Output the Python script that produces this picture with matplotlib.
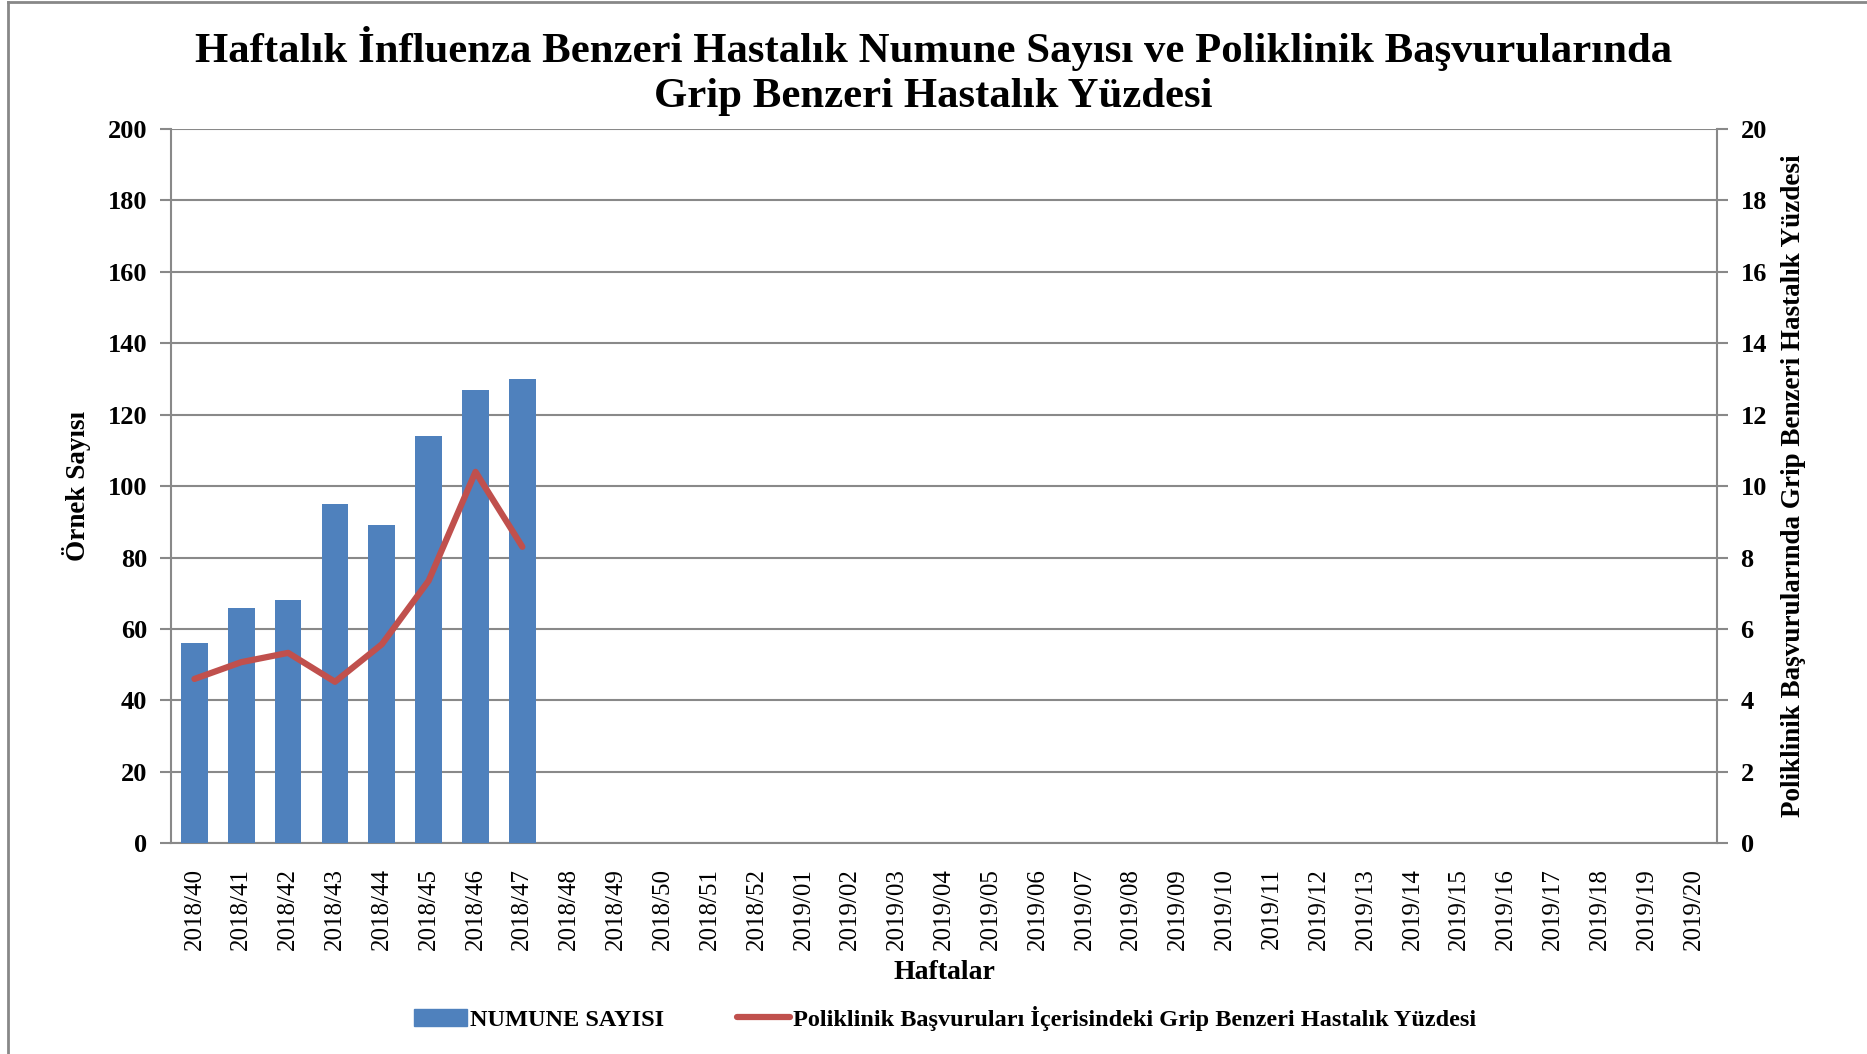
import matplotlib.pyplot as plt
from matplotlib.lines import Line2D
import numpy as np

plt.rcParams['font.family'] = ['Liberation Serif', 'DejaVu Serif']

weeks = [f"2018/{w}" for w in range(40, 53)] + [f"2019/{w:02d}" for w in range(1, 21)]
samples = [56, 66, 68, 95, 89, 114, 127, 130]
ili_pct = [4.6, 5.07, 5.33, 4.52, 5.57, 7.35, 10.4, 8.3]

title = ("Haftalık İnfluenza Benzeri Hastalık Numune Sayısı ve Poliklinik Başvurularında\n"
         "Grip Benzeri Hastalık Yüzdesi")

blue = "#4F81BD"
red = "#C0504D"
grid_c = "#898989"

fig = plt.figure(figsize=(18.67, 10.54), dpi=100)
ax = fig.add_axes([0.0916, 0.2, 0.828, 0.6776])
ax2 = ax.twinx()

x = np.arange(len(weeks))
ax.bar(x[:len(samples)], samples, width=0.57, color=blue, zorder=3)
ax2.plot(x[:len(ili_pct)], ili_pct, color=red, lw=4.5, solid_capstyle="round",
         solid_joinstyle="round", zorder=4)

ax.set_xlim(-0.5, len(weeks) - 0.5)
ax.set_ylim(0, 200)
ax.set_yticks(range(0, 201, 20))
ax2.set_ylim(0, 20)
ax2.set_yticks(range(0, 21, 2))

ax.yaxis.grid(True, color=grid_c, lw=1.5, zorder=0)
ax.set_axisbelow(True)
for a in (ax, ax2):
    for s in a.spines.values():
        s.set_visible(False)
    a.tick_params(axis="y", length=8, width=1.5, color=grid_c, labelsize=19, pad=9)
    for lab in a.get_yticklabels():
        lab.set_fontweight("bold")
for a, side in ((ax, "left"), (ax, "bottom"), (ax2, "right")):
    a.spines[side].set_visible(True)
    a.spines[side].set_color(grid_c)
    a.spines[side].set_linewidth(1.5)

ax.set_xticks(x)
ax.set_xticklabels(weeks, rotation=90, fontsize=18)
ax.tick_params(axis="x", length=0, pad=18)

ax.set_xlabel("Haftalar", fontsize=20, fontweight="bold", labelpad=7)
ax.set_ylabel("Örnek Sayısı", fontsize=19.5, fontweight="bold", labelpad=12)
ax2.set_ylabel("Poliklinik Başvurularında Grip Benzeri Hastalık Yüzdesi",
               fontsize=19.5, fontweight="bold", labelpad=10)

fig.suptitle(title, fontsize=30.8, fontweight="bold", y=0.975, linespacing=1.24)

handles = [plt.Rectangle((0, 0), 1, 1, color=blue),
           Line2D([0], [0], color=red, lw=4.5, solid_capstyle="round")]
fig.legend(handles, ["NUMUNE SAYISI",
                     "Poliklinik Başvuruları İçerisindeki Grip Benzeri Hastalık Yüzdesi"],
           loc="center", bbox_to_anchor=(0.506, 0.034), ncol=2, frameon=False,
           prop={"size": 17.5, "weight": "bold"}, handlelength=2.2, handletextpad=0.1,
           columnspacing=3.0)

# outer chart border (left and top edges)
fig.add_artist(Line2D([8 / 1867, 8 / 1867], [0, 1 - 1.5 / 1054], color="#888888", lw=2,
                      transform=fig.transFigure))
fig.add_artist(Line2D([8 / 1867, 1], [1 - 1.5 / 1054, 1 - 1.5 / 1054], color="#888888", lw=2,
                      transform=fig.transFigure))

fig.savefig("out.png", dpi=100)
